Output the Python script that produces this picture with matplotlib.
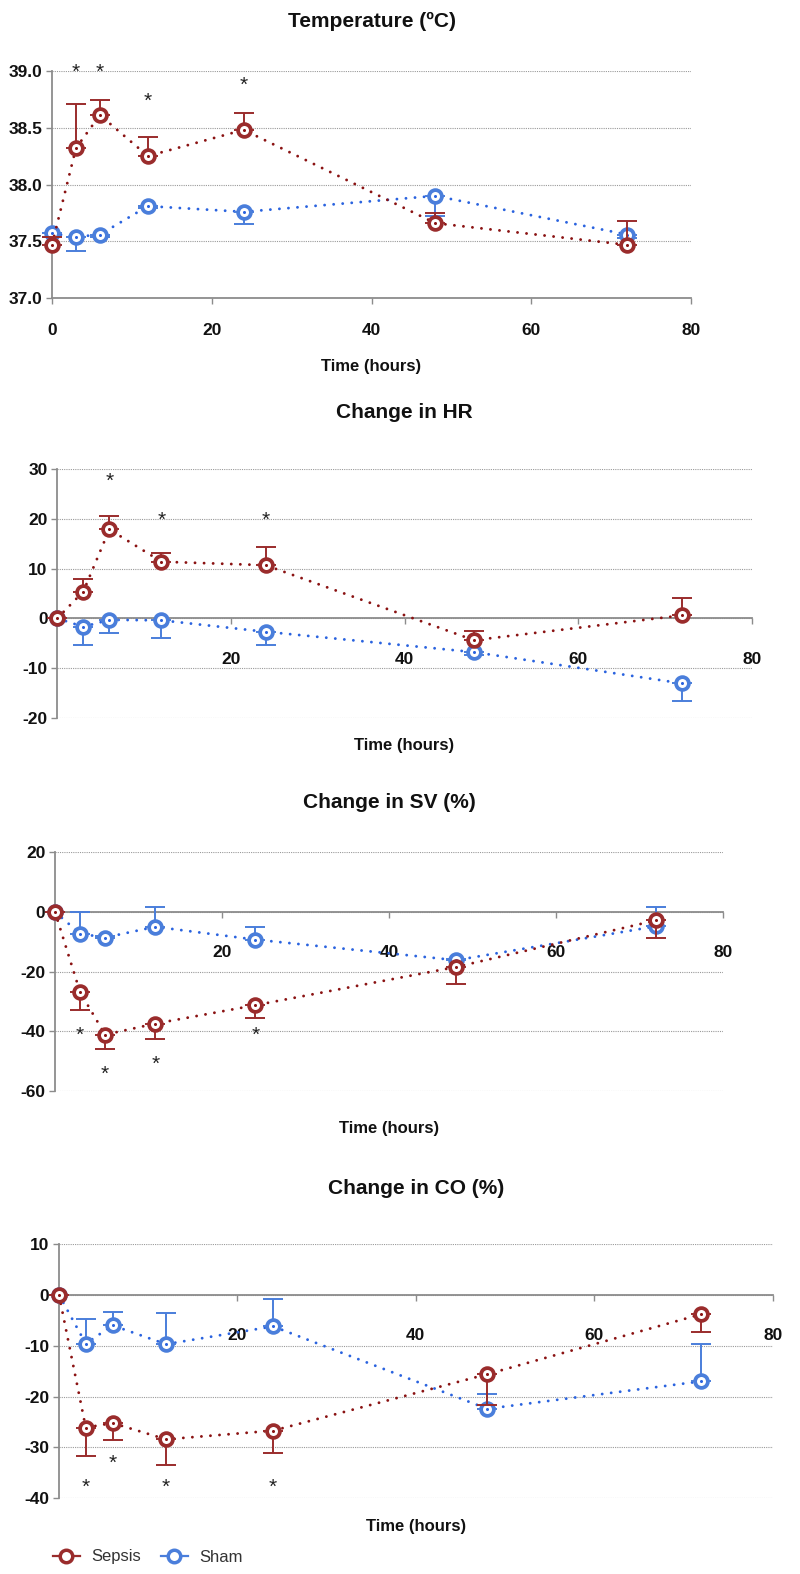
import numpy as np
import matplotlib
matplotlib.use('Agg')
import matplotlib.pyplot as plt
from matplotlib.lines import Line2D

plt.rcParams['font.family'] = ['Liberation Sans', 'DejaVu Sans']

# --- data ---
times = [0, 3, 6, 12, 24, 48, 72]

temp_sepsis = [37.47, 38.32, 38.61, 38.25, 38.48, 37.66, 37.47]
temp_sepsis_err = [0.07, 0.39, 0.13, 0.17, 0.15, 0.09, 0.21]
temp_sham = [37.57, 37.54, 37.56, 37.81, 37.76, 37.90, 37.56]
temp_sham_err = [0.03, 0.12, 0.02, 0.02, 0.11, 0.18, 0.03]
temp_star_x = [3, 6, 12, 24]
temp_star_y = [38.99, 38.99, 38.73, 38.87]

hr_sepsis = [0, 5.4, 17.9, 11.4, 10.7, -4.4, 0.6]
hr_sepsis_err = [0, 2.45, 2.7, 1.8, 3.6, 1.8, 3.4]
hr_sham = [0, -1.7, -0.3, -0.4, -2.7, -6.8, -13.1]
hr_sham_err = [0, 3.7, 2.7, 3.6, 2.7, 0.5, 3.6]
hr_star_x = [6, 12, 24]
hr_star_y = [27.5, 19.8, 19.8]

sv_sepsis = [0, -26.9, -41.2, -37.5, -31.3, -18.5, -2.8]
sv_sepsis_err = [0, 6.1, 4.7, 5.0, 4.2, 5.8, 5.8]
sv_sham = [0, -7.3, -8.6, -5.0, -9.3, -16.2, -4.8]
sv_sham_err = [0, 7.1, 0.5, 6.7, 4.3, 0.5, 6.5]
sv_star_x = [3, 6, 12, 24]
sv_star_y = [-41.4, -54.5, -51.2, -41.4]

co_sepsis = [0, -26.1, -25.2, -28.4, -26.7, -15.6, -3.8]
co_sepsis_err = [0, 5.5, 3.4, 5.1, 4.3, 6.0, 3.6]
co_sham = [0, -9.6, -6.0, -9.7, -6.2, -22.4, -17.0]
co_sham_err = [0, 4.8, 2.6, 6.1, 5.4, 2.9, 7.3]
co_star_x = [3, 6, 12, 24]
co_star_y = [-37.9, -33.1, -37.9, -37.9]

SEP_MK, SEP_LN = '#9a2c2c', '#8a1212'
SHAM_MK, SHAM_LN = '#4a7edb', '#2a63df'
GRID = '#9a9a9a'
SPINE = '#8c8c8c'

W, H = 800, 1574
fig = plt.figure(figsize=(W / 100, H / 100), dpi=100)


def rect(l, r, t, b):
    return [l / W, 1 - b / H, (r - l) / W, (b - t) / H]


def series(ax, y, err, up, mk, ln, z):
    y = np.array(y)
    err = np.array(err)
    zeros = np.zeros_like(err)
    yerr = [zeros, err] if up else [err, zeros]
    ax.plot(times, y, color=ln, lw=2.1, linestyle=(0, (0.01, 3.1)),
            dash_capstyle='round', zorder=z, clip_on=False)
    ax.errorbar(times, y, yerr=yerr, fmt='none', ecolor=mk, elinewidth=1.4,
                capsize=7.5, capthick=1.4, zorder=z + 1, clip_on=False)
    ax.plot(times, y, linestyle='none', marker='o', ms=9.2, mfc='white',
            mec=mk, mew=2.7, zorder=z + 2, clip_on=False)
    ax.plot(times, y, linestyle='none', marker='o', ms=2.2, mfc=ln,
            mec=ln, mew=0, zorder=z + 3, clip_on=False)


def panel(r, title, title_y, xlabel_y, ylim, yticks, yfmt, xticks,
          sep, sep_err, sham, sham_err, sep_up, star_x, star_y, cross0):
    ax = fig.add_axes(rect(*r))
    ax.set_xlim(0, 80)
    ax.set_ylim(*ylim)
    for s in ['top', 'right']:
        ax.spines[s].set_visible(False)
    for s in ['left', 'bottom']:
        ax.spines[s].set_color(SPINE)
        ax.spines[s].set_linewidth(1.3)
    if cross0:
        ax.spines['bottom'].set_position(('data', 0))
    ax.set_yticks(yticks)
    ax.set_yticklabels([yfmt % v for v in yticks])
    ax.set_xticks(xticks)
    ax.set_xticklabels([str(v) for v in xticks])
    ax.tick_params(axis='y', length=4, width=1, color=SPINE, pad=3, labelsize=12.5)
    pad_x = 20 if cross0 else 14
    ax.tick_params(axis='x', length=4, width=1, color=SPINE, pad=pad_x, labelsize=12.5)
    plt.setp(ax.get_xticklabels() + ax.get_yticklabels(), fontweight='bold',
             color='#111111')
    ax.yaxis.grid(True, linestyle=(0, (1, 1)), color=GRID, lw=0.8)
    ax.set_axisbelow(True)

    series(ax, sham, sham_err, not sep_up, SHAM_MK, SHAM_LN, 3)
    series(ax, sep, sep_err, sep_up, SEP_MK, SEP_LN, 7)
    for x, y in zip(star_x, star_y):
        ax.text(x, y, '*', ha='center', va='center', fontsize=15, color='#222222',
                zorder=12)

    cx = (r[0] + r[1]) / 2 / W
    fig.text(cx, 1 - title_y / H, title, ha='center', va='center',
             fontsize=15, fontweight='bold', color='#111111')
    fig.text(cx, 1 - xlabel_y / H, 'Time (hours)', ha='center', va='center',
             fontsize=12, fontweight='bold', color='#111111')
    return ax


panel((52, 691, 70.7, 298.3), 'Temperature (ºC)', 21, 367, (37.0, 39.0),
      [37.0, 37.5, 38.0, 38.5, 39.0], '%.1f', [0, 20, 40, 60, 80],
      temp_sepsis, temp_sepsis_err, temp_sham, temp_sham_err, True,
      temp_star_x, temp_star_y, False)

panel((57.3, 751.7, 469.3, 717.7), 'Change in HR', 413, 745, (-20, 30),
      [-20, -10, 0, 10, 20, 30], '%d', [20, 40, 60, 80],
      hr_sepsis, hr_sepsis_err, hr_sham, hr_sham_err, True,
      hr_star_x, hr_star_y, True)

panel((55, 723.3, 852.3, 1090.7), 'Change in SV (%)', 803, 1128, (-60, 20),
      [-60, -40, -20, 0, 20], '%d', [20, 40, 60, 80],
      sv_sepsis, sv_sepsis_err, sv_sham, sv_sham_err, False,
      sv_star_x, sv_star_y, True)

panel((59, 772.7, 1244, 1498.3), 'Change in CO (%)', 1188, 1527, (-40, 10),
      [-40, -30, -20, -10, 0, 10], '%d', [20, 40, 60, 80],
      co_sepsis, co_sepsis_err, co_sham, co_sham_err, False,
      co_star_x, co_star_y, True)

handles = [
    Line2D([], [], color=SEP_MK, lw=1.6, marker='o', ms=9, mfc='white', mec=SEP_MK, mew=2.5),
    Line2D([], [], color=SHAM_MK, lw=1.6, marker='o', ms=9, mfc='white', mec=SHAM_MK, mew=2.5),
]
fig.legend(handles, ['Sepsis', 'Sham'], loc='center left',
           bbox_to_anchor=(38 / W, 1 - 1557 / H), ncol=2, frameon=False,
           fontsize=12, handlelength=1.6, handletextpad=0.7, columnspacing=1.2,
           labelcolor='#333333')

fig.savefig('out.png', dpi=100)
